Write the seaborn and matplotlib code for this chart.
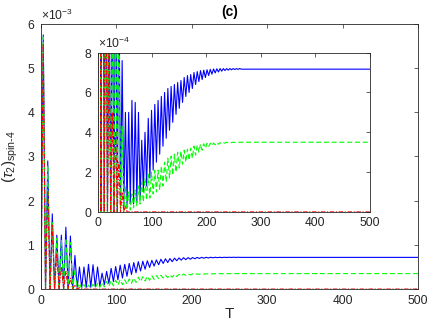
import matplotlib
matplotlib.use('Agg')
import matplotlib.pyplot as plt
import pandas as pd
import seaborn as sns
import numpy as np


# values, in units of 1e-4
# the signals oscillate with a period of ~6, so peaks sit at odd multiples of 3
blue_troughs = [0, 0, 0, 0, 0, 0, 0,
                0.3, 0.3, 0.3, 0.4, 0.4, 0.5, 0.6,
                1.0, 1.3, 1.7, 2.1, 2.5, 2.9, 3.3,
                3.7, 4.1, 4.5, 4.9, 5.2, 5.5, 5.8,
                6.0, 6.2, 6.4, 6.55, 6.65, 6.75, 6.85,
                6.92, 6.98, 7.03, 7.07, 7.1, 7.12, 7.14,
                7.15, 7.16, 7.17]
blue_peaks = [57.5, 29, 17, 12.2, 12.2, 14, 12,
              7.6, 5.0, 5.0, 5.6, 5.5, 5.0, 3.6,
              4.0, 4.7, 5.1, 5.4, 5.6, 5.8, 6.0,
              6.2, 6.3, 6.4, 6.5, 6.6, 6.75, 6.85,
              6.9, 7.0, 7.05, 7.1, 7.12, 7.14, 7.16,
              7.18, 7.19, 7.2, 7.2, 7.2, 7.2, 7.2,
              7.2, 7.2]
blue_end = 7.17

green_troughs = [0, 0, 0, 0, 0, 0, 0,
                 0.1, 0.05, 0.1, 0.1, 0.2, 0.3, 0.4,
                 0.5, 0.6, 0.7, 0.9, 1.0, 1.1, 1.3,
                 1.5, 1.7, 1.85, 2.0, 2.2, 2.4, 2.5,
                 2.6, 2.7, 2.85, 3.0, 3.1, 3.2, 3.28,
                 3.33, 3.37, 3.4, 3.43, 3.45, 3.47, 3.48,
                 3.49, 3.5, 3.5]
green_peaks = [57, 28, 15, 11.5, 11, 11.5, 10.5,
               4.3, 1.3, 1.0, 0.9, 1.1, 1.3, 1.5,
               1.7, 1.9, 2.0, 2.1, 2.1, 2.3, 2.5,
               2.7, 2.8, 2.9, 3.0, 3.05, 3.1, 3.15,
               3.2, 3.3, 3.35, 3.4, 3.42, 3.44, 3.45,
               3.46, 3.47, 3.48, 3.49, 3.5, 3.5, 3.5,
               3.5, 3.5]
green_end = 3.5

red_troughs = [0, 0, 0, 0, 0, 0, 0, 0, 0, 0]
red_peaks = [55.5, 22, 14.5, 8, 5, 4, 2.5, 1.0, 0.3]
red_end = 0

t_grid = np.arange(0, 267, 3)   # half-period sampling
t_end = 500


def build(name, troughs, peaks, end):
    vals = []
    for i, tr in enumerate(troughs):
        vals.append(tr)
        if i < len(peaks):
            vals.append(peaks[i])
    t = list(t_grid[:len(vals)]) + [t_end]
    vals = vals + [end]
    return pd.DataFrame({'T': t, 'value': np.array(vals) * 1e-4, 'series': name})


df = pd.concat([build('blue', blue_troughs, blue_peaks, blue_end),
                build('green', green_troughs, green_peaks, green_end),
                build('red', red_troughs, red_peaks, red_end)])

styles = {'blue': ('#0000ff', '-'),
          'green': ('#00ff00', (0, (4.5, 2.5))),
          'red': ('#ff0000', (0, (4, 1.5, 1, 1.5)))}

sns.set_style('white')
plt.rcParams['font.family'] = ['Liberation Sans', 'DejaVu Sans']
plt.rcParams['mathtext.fontset'] = 'custom'
plt.rcParams['mathtext.rm'] = 'Liberation Sans'
plt.rcParams['mathtext.it'] = 'Liberation Sans:italic'
plt.rcParams['mathtext.bf'] = 'Liberation Sans:bold'

axcol = '#262626'


def draw(ax, ymax, sci):
    for name, (color, ls) in styles.items():
        sns.lineplot(data=df[df['series'] == name], x='T', y='value', color=color,
                     linestyle=ls, lw=0.8, ax=ax, estimator=None, sort=False, legend=False)
    ax.set_xlim(0, 500)
    ax.set_ylim(0, ymax)
    ax.set_xticks([0, 100, 200, 300, 400, 500])
    ax.ticklabel_format(axis='y', style='sci', scilimits=(sci, sci), useMathText=True)
    ax.tick_params(direction='in', top=True, right=True, length=3, width=0.5,
                   colors=axcol, labelsize=8.7, pad=4)
    ax.yaxis.get_offset_text().set_fontsize(8.7)
    ax.yaxis.get_offset_text().set_color(axcol)
    for s in ax.spines.values():
        s.set_color(axcol)
        s.set_linewidth(0.6)
    ax.set_xlabel('')
    ax.set_ylabel('')


fig = plt.figure(figsize=(4.36, 3.27), dpi=100)
ax = fig.add_axes([0.094, 0.116, 0.865, 0.811])
draw(ax, 6e-3, -3)
ax.set_yticks([0, 1e-3, 2e-3, 3e-3, 4e-3, 5e-3, 6e-3])
ax.set_xlabel('T', fontsize=11, color=axcol, labelpad=0)
ax.set_ylabel(r'$(\tau_2)_{\mathrm{spin‐4}}$', fontsize=11, color=axcol, labelpad=5)
ax.set_title('(c)', fontsize=10, fontweight='bold', color='black', pad=6)

axin = fig.add_axes([0.224, 0.352, 0.624, 0.487])
draw(axin, 8e-4, -4)
axin.set_yticks([0, 2e-4, 4e-4, 6e-4, 8e-4])

plt.savefig('out.png', dpi=100)
plt.close()
